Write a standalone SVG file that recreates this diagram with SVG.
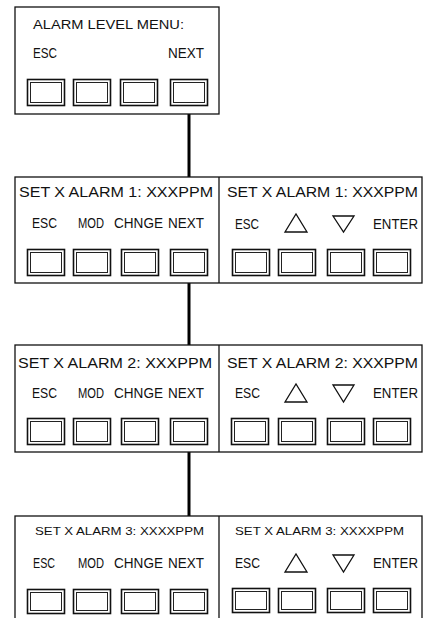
<svg xmlns="http://www.w3.org/2000/svg" xmlns:xlink="http://www.w3.org/1999/xlink" width="425" height="618" viewBox="0 0 425 618">
  <style>
    .panel { fill: #ffffff; stroke: #111111; stroke-width: 1.3; }
    .divider { stroke: #111111; stroke-width: 1.3; fill: none; }
    .link { stroke: #000000; stroke-width: 3; fill: none; }
    .key-out { fill: #ffffff; stroke: #111111; stroke-width: 1.6; }
    .key-in { fill: none; stroke: #222222; stroke-width: 1; }
    .arrow { fill: none; stroke: #111111; stroke-width: 1.3; stroke-linejoin: miter; }
    text { font-family: "Liberation Sans", Arial, sans-serif; fill: #111111; }
    .t13 { font-size: 13px; }
    .t14 { font-size: 14px; }
    .t12 { font-size: 11.5px; }
  </style>
  <defs>
    <g id="key">
      <rect class="key-out" x="0.5" y="0.5" width="37" height="26"/>
      <rect class="key-in" x="3.5" y="3.5" width="31" height="20"/>
    </g>
    <g id="key-short">
      <rect class="key-out" x="0.5" y="0.5" width="37" height="24"/>
      <rect class="key-in" x="3.5" y="3.5" width="31" height="18"/>
    </g>
  </defs>

  <!-- connectors between menu levels -->
  <g id="connectors">
    <line class="link" x1="189" y1="114" x2="189" y2="177"/>
    <line class="link" x1="189" y1="283" x2="189" y2="345"/>
    <line class="link" x1="189" y1="452" x2="189" y2="516"/>
  </g>

  <!-- alarm level menu -->
  <g id="menu">
    <rect class="panel" x="15" y="7" width="204" height="107"/>
    <text class="t13" x="33" y="29" textLength="151" lengthAdjust="spacingAndGlyphs">ALARM LEVEL MENU:</text>
    <text class="t14" x="33" y="58" textLength="24" lengthAdjust="spacingAndGlyphs">ESC</text>
    <text class="t14" x="168" y="58" textLength="36" lengthAdjust="spacingAndGlyphs">NEXT</text>
    <use xlink:href="#key" x="27" y="79"/>
    <use xlink:href="#key" x="73" y="79"/>
    <use xlink:href="#key" x="120" y="79"/>
    <use xlink:href="#key" x="170" y="79"/>
  </g>

  <!-- alarm 1 -->
  <g id="alarm1">
    <rect class="panel" x="15" y="177" width="407" height="106"/>
    <line class="divider" x1="219" y1="177" x2="219" y2="283"/>
    <text class="t14" x="19" y="197" textLength="194" lengthAdjust="spacingAndGlyphs">SET X ALARM 1: XXXPPM</text>
    <text class="t14" x="32" y="228" textLength="25" lengthAdjust="spacingAndGlyphs">ESC</text>
    <text class="t14" x="78" y="228" textLength="26" lengthAdjust="spacingAndGlyphs">MOD</text>
    <text class="t14" x="114" y="228" textLength="49" lengthAdjust="spacingAndGlyphs">CHNGE</text>
    <text class="t14" x="168" y="228" textLength="36" lengthAdjust="spacingAndGlyphs">NEXT</text>
    <use xlink:href="#key" x="27" y="249"/>
    <use xlink:href="#key" x="73" y="249"/>
    <use xlink:href="#key" x="121" y="249"/>
    <use xlink:href="#key" x="170" y="249"/>
    <text class="t14" x="227" y="197" textLength="191" lengthAdjust="spacingAndGlyphs">SET X ALARM 1: XXXPPM</text>
    <text class="t14" x="235" y="229" textLength="24" lengthAdjust="spacingAndGlyphs">ESC</text>
    <polygon class="arrow" points="285,232 296,214 307,232"/>
    <polygon class="arrow" points="333,216 354,216 343.5,232"/>
    <text class="t14" x="373" y="229" textLength="45" lengthAdjust="spacingAndGlyphs">ENTER</text>
    <use xlink:href="#key" x="232" y="249"/>
    <use xlink:href="#key" x="278" y="249"/>
    <use xlink:href="#key" x="327" y="249"/>
    <use xlink:href="#key" x="373" y="249"/>
  </g>

  <!-- alarm 2 -->
  <g id="alarm2">
    <rect class="panel" x="15" y="345" width="407" height="107"/>
    <line class="divider" x1="219" y1="345" x2="219" y2="452"/>
    <text class="t14" x="18" y="368" textLength="194" lengthAdjust="spacingAndGlyphs">SET X ALARM 2: XXXPPM</text>
    <text class="t14" x="32" y="398" textLength="25" lengthAdjust="spacingAndGlyphs">ESC</text>
    <text class="t14" x="78" y="398" textLength="26" lengthAdjust="spacingAndGlyphs">MOD</text>
    <text class="t14" x="114" y="398" textLength="49" lengthAdjust="spacingAndGlyphs">CHNGE</text>
    <text class="t14" x="168" y="398" textLength="36" lengthAdjust="spacingAndGlyphs">NEXT</text>
    <use xlink:href="#key" x="27" y="418"/>
    <use xlink:href="#key" x="73" y="418"/>
    <use xlink:href="#key" x="121" y="418"/>
    <use xlink:href="#key" x="170" y="418"/>
    <text class="t14" x="227" y="368" textLength="191" lengthAdjust="spacingAndGlyphs">SET X ALARM 2: XXXPPM</text>
    <text class="t14" x="235" y="398" textLength="25" lengthAdjust="spacingAndGlyphs">ESC</text>
    <polygon class="arrow" points="285,402 296,384 307,402"/>
    <polygon class="arrow" points="333,385 354,385 343.5,402"/>
    <text class="t14" x="373" y="398" textLength="45" lengthAdjust="spacingAndGlyphs">ENTER</text>
    <use xlink:href="#key" x="231" y="418"/>
    <use xlink:href="#key" x="278" y="418"/>
    <use xlink:href="#key" x="327" y="418"/>
    <use xlink:href="#key" x="373" y="418"/>
  </g>

  <!-- alarm 3 -->
  <g id="alarm3">
    <rect class="panel" x="15" y="516" width="407" height="112"/>
    <line class="divider" x1="219" y1="516" x2="219" y2="628"/>
    <text class="t12" x="35" y="535" textLength="169" lengthAdjust="spacingAndGlyphs">SET X ALARM 3: XXXXPPM</text>
    <text class="t14" x="33" y="568" textLength="22" lengthAdjust="spacingAndGlyphs">ESC</text>
    <text class="t14" x="78" y="568" textLength="26" lengthAdjust="spacingAndGlyphs">MOD</text>
    <text class="t14" x="114" y="568" textLength="49" lengthAdjust="spacingAndGlyphs">CHNGE</text>
    <text class="t14" x="168" y="568" textLength="36" lengthAdjust="spacingAndGlyphs">NEXT</text>
    <use xlink:href="#key-short" x="27" y="589"/>
    <use xlink:href="#key-short" x="73" y="589"/>
    <use xlink:href="#key-short" x="121" y="589"/>
    <use xlink:href="#key-short" x="170" y="589"/>
    <text class="t12" x="235" y="535" textLength="169" lengthAdjust="spacingAndGlyphs">SET X ALARM 3: XXXXPPM</text>
    <text class="t14" x="235" y="568" textLength="25" lengthAdjust="spacingAndGlyphs">ESC</text>
    <polygon class="arrow" points="285,572 296,554 307,572"/>
    <polygon class="arrow" points="333,555 354,555 343.5,572"/>
    <text class="t14" x="373" y="568" textLength="45" lengthAdjust="spacingAndGlyphs">ENTER</text>
    <use xlink:href="#key-short" x="232" y="588"/>
    <use xlink:href="#key-short" x="278" y="588"/>
    <use xlink:href="#key-short" x="327" y="588"/>
    <use xlink:href="#key-short" x="373" y="588"/>
  </g>
</svg>
